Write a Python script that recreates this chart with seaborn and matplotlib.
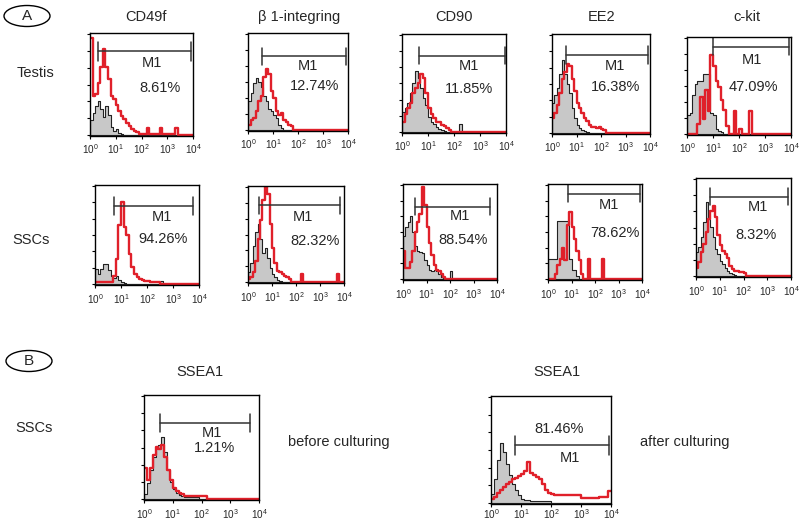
import numpy as np
import matplotlib
matplotlib.use("Agg")
import matplotlib.pyplot as plt
import seaborn as sns
from matplotlib.patches import Ellipse

sns.set_style("white")
plt.rcParams['font.family'] = ['Liberation Sans', 'DejaVu Sans']
plt.rcParams['mathtext.fontset'] = 'custom'
plt.rcParams['mathtext.rm'] = 'Liberation Sans'

# ---------------- data (relative counts per 0.1-decade bin, from 10^0) ----------------
markers_A = ["CD49f", "\u03b2 1-integring", "CD90", "EE2", "c-kit"]
rows_A = ["Testis", "SSCs"]
tick_labels = [r"$\mathregular{10^{0}}$", r"$\mathregular{10^{1}}$", r"$\mathregular{10^{2}}$",
               r"$\mathregular{10^{3}}$", r"$\mathregular{10^{4}}$"]

testis_cd49f_ctrl = [15, 22, 28, 33, 25, 18, 28, 20, 8, 4, 6, 2, 1]
testis_cd49f_red = [95, 38, 40, 51, 67, 84, 67, 55, 38, 35, 29, 24, 19, 16, 12, 9, 6, 4, 3, 1, 1, 1, 7, 1, 1, 1, 1, 7, 1, 1, 1, 1, 1, 7]
testis_b1_ctrl = [30, 38, 48, 54, 50, 44, 35, 30, 22, 20, 15, 12, 5, 2]
testis_b1_red = [5, 10, 12, 20, 30, 35, 55, 63, 58, 40, 33, 20, 15, 18, 10, 8, 5, 4]
testis_cd90_ctrl = [20, 25, 30, 40, 50, 62, 55, 45, 35, 28, 15, 10, 8, 5, 3, 2, 1, 0, 0, 0, 0, 0, 8]
testis_cd90_red = [10, 18, 25, 30, 40, 45, 50, 59, 55, 40, 25, 18, 14, 10, 10, 7, 6, 4, 2]
testis_ee2_ctrl = [30, 38, 45, 60, 74, 60, 50, 40, 25, 15, 8, 5, 3, 2, 1]
testis_ee2_red = [15, 20, 28, 40, 55, 62, 70, 68, 55, 42, 30, 25, 20, 15, 12, 8, 6, 6, 5, 6, 4, 3]
testis_ckit_ctrl = [20, 22, 40, 52, 55, 55, 62, 62, 62, 22, 20, 5, 3, 2]
testis_ckit_red = [0, 0, 0, 0, 10, 38, 15, 45, 24, 81, 70, 55, 48, 35, 25, 8, 0, 0, 24, 0, 5, 0, 0, 0, 24]

sscs_cd49f_ctrl = [15, 10, 15, 20, 20, 14, 8, 6, 8, 4, 2, 1, 0, 0, 0, 0, 0, 0, 0, 0, 0, 0, 0, 0, 0, 3]
sscs_cd49f_red = [2, 2, 2, 2, 2, 2, 2, 8, 25, 60, 83, 58, 50, 30, 17, 10, 7, 5, 4, 3, 3, 2, 2, 2, 2]
sscs_b1_ctrl = [10, 20, 38, 52, 60, 45, 30, 35, 25, 15, 8, 5, 2, 1]
sscs_b1_red = [3, 5, 10, 22, 45, 65, 85, 99, 92, 60, 35, 20, 12, 10, 8, 6, 5, 3, 0, 0, 0, 0, 8,
               0, 0, 0, 0, 0, 0, 0, 0, 0, 0, 0, 0, 0, 0, 8]
sscs_cd90_ctrl = [45, 55, 60, 66, 50, 35, 30, 28, 27, 20, 15, 10, 8, 10, 8, 5, 2, 0, 0, 0, 8]
sscs_cd90_red = [30, 12, 12, 18, 30, 50, 60, 68, 97, 78, 55, 38, 25, 15, 10, 8, 5, 2]
sscs_ee2_ctrl = [21, 21, 21, 21, 61, 61, 61, 61, 61, 21, 10, 10, 3]
sscs_ee2_red = [0, 0, 0, 5, 15, 21, 33, 20, 57, 71, 55, 42, 30, 20, 5, 0, 0, 21, 0, 0, 0, 0, 0, 21]
sscs_ckit_ctrl = [24, 30, 40, 55, 76, 58, 50, 40, 28, 22, 15, 12, 8, 5, 3, 2, 1]
sscs_ckit_red = [8, 14, 25, 33, 45, 58, 66, 71, 60, 42, 32, 26, 22, 18, 10, 7, 5, 5, 4, 4, 3]

ssea1_before_ctrl = [5, 15, 28, 40, 50, 52, 60, 45, 28, 16, 10, 6, 4, 3, 2, 2, 2, 2, 2]
ssea1_before_red = [30, 18, 30, 42, 50, 48, 52, 40, 28, 18, 11, 8, 6, 5, 3, 3, 3, 3, 3, 3, 3, 3]
ssea1_after_ctrl = [8, 22, 40, 56, 48, 36, 26, 18, 12, 7, 4, 3, 3, 2, 2, 2, 2, 2, 2, 2]
ssea1_after_red = [4, 6, 9, 12, 15, 18, 20, 22, 23, 25, 27, 30, 38, 28, 26, 24, 22, 18, 12, 9, 8,
                   7, 7, 7, 7, 7, 7, 7, 7, 7, 5, 5, 5, 5, 5, 5, 6, 6, 6, 11]

# gate: start, end (decades), level; percentages
gates = [
    (0.30, 3.94, 82), (0.56, 3.90, 76), (0.64, 3.97, 78), (0.59, 3.90, 79), (1.01, 3.92, 90),
    (0.73, 3.78, 79), (0.46, 3.85, 80), (0.52, 3.72, 76), (0.86, 3.93, 90), (0.58, 3.86, 81),
    (0.55, 3.68, 73), (0.79, 3.92, 54),
]
percents = ["8.61%", "12.74%", "11.85%", "16.38%", "47.09%",
            "94.26%", "82.32%", "88.54%", "78.62%", "8.32%",
            "1.21%", "81.46%"]

controls = [testis_cd49f_ctrl, testis_b1_ctrl, testis_cd90_ctrl, testis_ee2_ctrl, testis_ckit_ctrl,
            sscs_cd49f_ctrl, sscs_b1_ctrl, sscs_cd90_ctrl, sscs_ee2_ctrl, sscs_ckit_ctrl,
            ssea1_before_ctrl, ssea1_after_ctrl]
samples = [testis_cd49f_red, testis_b1_red, testis_cd90_red, testis_ee2_red, testis_ckit_red,
           sscs_cd49f_red, sscs_b1_red, sscs_cd90_red, sscs_ee2_red, sscs_ckit_red,
           ssea1_before_red, ssea1_after_red]

# ---------------- layout ----------------
W, H = 800, 522
fig = plt.figure(figsize=(8, 5.22), dpi=100)

boxes = [  # x0, x1, y0, y1 in pixels (top-left origin)
    (90, 193, 33, 136), (248, 348, 33, 131), (402, 506, 34, 133), (552, 650, 34, 134), (687, 791, 37, 135),
    (95, 199, 185, 285), (248, 344, 186, 283), (403, 497, 184, 280), (548, 642, 184, 280), (696, 791, 178, 277),
    (144, 259, 395, 500), (491, 611, 396, 504),
]
label_pad = [2, 2, 2, 2, 2, 3, 3, 3, 3, 3, 3, 0]
# text positions (decade x, % y) for M1 and percent labels
m1_pos = [(2.4, 71), (2.4, 66), (2.56, 67), (2.58, 68), (2.5, 76),
          (2.56, 68), (2.3, 68), (2.42, 66), (2.6, 78), (2.6, 70),
          (2.35, 63), (2.64, 42)]
pct_pos = [(2.7, 46), (2.67, 45), (2.56, 44), (2.58, 46), (2.57, 48),
           (2.62, 45), (2.78, 43), (2.56, 41), (2.86, 48), (2.53, 42),
           (2.46, 49), (2.26, 69)]

RED = "#e0202a"
GRAY = "#c8c8c8"
nbins = 40
edges = list(np.round(np.linspace(0, 4, nbins + 1), 6))
centers = [(edges[k] + edges[k + 1]) / 2 for k in range(nbins)]


def pad(v):
    a = np.zeros(nbins)
    a[:len(v)] = v
    return a


for i, (x0, x1, y0, y1) in enumerate(boxes):
    ax = fig.add_axes([x0 / W, 1 - y1 / H, (x1 - x0) / W, (y1 - y0) / H])
    sns.histplot(x=centers, weights=pad(controls[i]), bins=edges, element="step", fill=True,
                 color=GRAY, alpha=1, edgecolor="#222222", linewidth=0.8, ax=ax)
    sns.histplot(x=centers, weights=pad(samples[i]), bins=edges, element="step", fill=False,
                 color=RED, linewidth=1.7, ax=ax)
    ax.set_xlim(0, 4)
    ax.set_ylim(-1, 100)
    ax.set_xlabel("")
    ax.set_ylabel("")
    ax.set_xticks(range(5))
    ax.set_xticklabels(tick_labels, fontsize=7.2)
    ax.set_yticks(np.arange(0, 101, 16.5))
    ax.set_yticklabels([])
    ax.tick_params(axis="both", which="both", direction="out", length=2.5, width=0.8,
                   color="black", pad=label_pad[i], left=True, bottom=True)
    for s in ax.spines.values():
        s.set_visible(True)
        s.set_color("black")
        s.set_linewidth(1.0)
    gs, ge, gy = gates[i]
    ax.plot([gs, ge], [gy, gy], color="#333333", lw=1.1)
    ax.plot([gs, gs], [gy - 9, gy + 9], color="#333333", lw=1.1)
    ax.plot([ge, ge], [gy - 9, gy + 9], color="#333333", lw=1.1)
    ax.text(m1_pos[i][0], m1_pos[i][1], "M1", ha="center", va="center", fontsize=10.5)
    ax.text(pct_pos[i][0], pct_pos[i][1], percents[i], ha="center", va="center", fontsize=10.5)


# ---------------- labels ----------------
def ftext(x, y, s, **kw):
    fig.text(x / W, 1 - y / H, s, va="center", fontsize=10.5, **kw)


title_x = [146, 299, 454, 602, 747]
for tx, t in zip(title_x, markers_A):
    ftext(tx, 17, t, ha="center")
ftext(17, 73, rows_A[0], ha="left")
ftext(12, 240, rows_A[1], ha="left")
ftext(15, 428, "SSCs", ha="left")
ftext(200, 372, "SSEA1", ha="center")
ftext(557, 372, "SSEA1", ha="center")
ftext(288, 442, "before culturing", ha="left")
ftext(640, 442, "after culturing", ha="left")

for (cx, cy, lab) in [(27, 16, "A"), (29, 361, "B")]:
    e = Ellipse((cx / W, 1 - cy / H), 46 / W, 21 / H, transform=fig.transFigure,
                fill=False, edgecolor="black", lw=1.0)
    fig.patches.append(e)
    fig.text(cx / W, 1 - cy / H, lab, ha="center", va="center", fontsize=11)

fig.savefig("out.png", dpi=100)
